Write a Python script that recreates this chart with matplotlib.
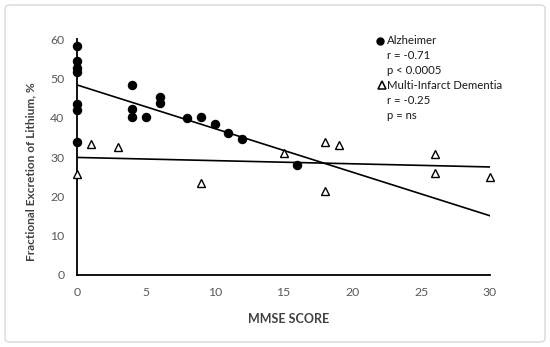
import numpy as np
import matplotlib
matplotlib.use("Agg")
import matplotlib.pyplot as plt
from matplotlib.patches import FancyBboxPatch
from matplotlib.lines import Line2D

plt.rcParams['font.family'] = ['Lato', 'DejaVu Sans']

# Alzheimer patients (filled circles)
alz_x = [0, 0, 0, 0, 0, 0, 0, 4, 4, 4, 5, 6, 6, 8, 9, 10, 11, 12, 16]
alz_y = [58.3, 54.3, 52.6, 51.7, 43.4, 42.0, 33.9, 48.2, 42.2, 40.1, 40.1,
         45.2, 43.7, 39.9, 40.3, 38.3, 36.2, 34.5, 28.0]

# Multi-infarct dementia (open triangles)
mid_x = [0, 1, 3, 9, 15, 18, 18, 19, 26, 26, 30]
mid_y = [25.7, 33.3, 32.5, 23.3, 31.0, 33.8, 21.4, 33.1, 30.7, 25.9, 24.8]

x_ticks = [0, 5, 10, 15, 20, 25, 30]
y_ticks = [0, 10, 20, 30, 40, 50, 60]

legend_lines = [("o", "Alzheimer"), ("", "r = -0.71"), ("", "p < 0.0005"),
                ("^", "Multi-Infarct Dementia"), ("", "r = -0.25"), ("", "p = ns")]

fig = plt.figure(figsize=(5.5, 3.47), dpi=100)
ax = fig.add_axes([0.14, 0.2075, 0.751, 0.68])

# trend lines (least squares, like the Excel trendline)
xs = np.array([0, 30])
a1, b1 = np.polyfit(alz_x, alz_y, 1)
a2, b2 = np.polyfit(mid_x, mid_y, 1)
ax.plot(xs, a1 * xs + b1, color='black', lw=1.2, zorder=2)
ax.plot(xs, a2 * xs + b2, color='black', lw=1.2, zorder=2)

ax.plot(alz_x, alz_y, 'o', color='black', ms=5.8, zorder=3, clip_on=False)
ax.plot(mid_x, mid_y, '^', mfc='white', mec='black', mew=1.0, ms=6, zorder=3,
        clip_on=False)

ax.set_xlim(0, 30)
ax.set_ylim(0, 60)
ax.set_xticks(x_ticks)
ax.set_yticks(y_ticks)
ax.tick_params(length=0, labelsize=8.8, labelcolor='#595959', pad=9)
for s in ['top', 'right']:
    ax.spines[s].set_visible(False)
for s in ['left', 'bottom']:
    ax.spines[s].set_linewidth(1.3)

ax.set_xlabel("MMSE SCORE", fontsize=9, fontweight='bold', color='#404040')
ax.set_ylabel("Fractional Excretion of Lithium, %", fontsize=8.6, fontweight='bold',
              color='#404040')
ax.xaxis.set_label_coords(0.513, -0.16)
ax.yaxis.set_label_coords(-0.099, 0.44)

# legend block as plain text
y0 = 1 - 40.7 / 347
for i, (mark, txt) in enumerate(legend_lines):
    yy = y0 - i * 14.9 / 347
    if mark == "o":
        fig.add_artist(Line2D([380 / 550], [yy], marker='o', color='black', ms=5,
                              transform=fig.transFigure))
    elif mark == "^":
        fig.add_artist(Line2D([381.5 / 550], [yy], marker='^', mfc='white', mec='black',
                              mew=1.1, ms=6, transform=fig.transFigure))
    fig.text(387 / 550, yy, txt, fontsize=8.2, va='center', ha='left', color='#1a1a1a')

fig.patches.append(FancyBboxPatch((5 / 550, 5 / 347), 540 / 550, 337 / 347,
                                  boxstyle="round,pad=0,rounding_size=0.01",
                                  transform=fig.transFigure, fill=False,
                                  edgecolor='#d9d9d9', lw=1.0))

fig.savefig("out.png", dpi=100)
